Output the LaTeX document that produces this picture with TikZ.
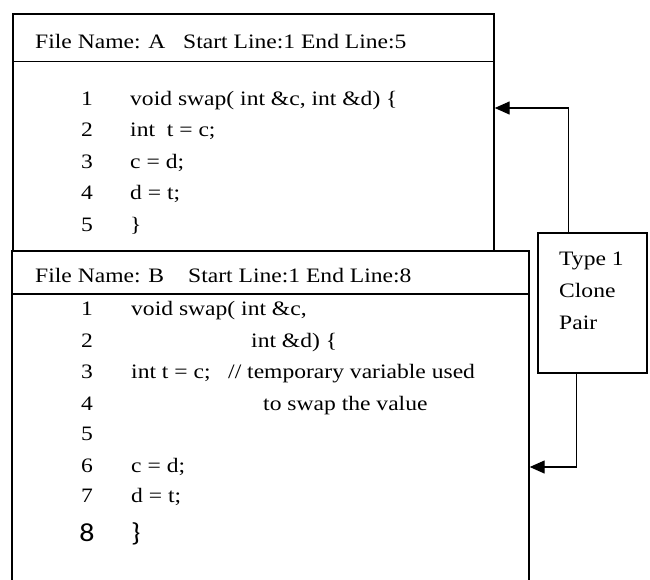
\documentclass[tikz,border=0pt]{standalone}
\usepackage{fontspec}
\setmainfont{Liberation Serif}[FakeStretch=1.15]
\newfontfamily\calfont{Carlito}[FakeStretch=1.15]
\usetikzlibrary{arrows.meta}
\begin{document}
\begin{tikzpicture}[x=1pt,y=-1pt,
  box/.style={draw=black,line width=1.4pt,fill=white,rectangle,inner sep=0pt},
  sep/.style={draw=black,line width=1.4pt},
  txt/.style={anchor=base west,inner sep=0pt,font=\fontsize{20.5}{24}\selectfont},
  num/.style={anchor=base,inner sep=0pt,font=\fontsize{20.5}{24}\selectfont},
  arr/.style={draw=black,line width=1.4pt,-{Triangle[length=15pt,width=13pt]}}]
\useasboundingbox (0,0) rectangle (650,579);
\clip (0,0) rectangle (650,579);
\fill[white] (0,0) rectangle (650,579);
% Box A
\node[box,minimum width=481pt,minimum height=237pt] (boxA) at (253.5,132.5) {};
\coordinate (hA) at (0,61.5);
\draw[sep] (boxA.west |- hA) -- (boxA.east |- hA);
\node[txt] (hA1) at (35,48.5) {File Name: A};
\node[txt] (hA2) at (183,48.5) {Start Line:1 End Line:5};
\foreach \n/\y/\t in {1/105,2/136.7,3/168.3,4/199.7,5/231.5}{
  \node[num] (an\n) at (87,\y) {\n};
}
\node[txt] (ac1) at (130,105) {void swap( int \&c, int \&d) \{};
\node[txt] (ac2) at (130,136.7) {int\ \ t = c;};
\node[txt] (ac3) at (130,168.3) {c = d;};
\node[txt] (ac4) at (130,199.7) {d = t;};
\node[txt] (ac5) at (130,231.5) {\}};
% Box B
\node[box,minimum width=517pt,minimum height=360pt] (boxB) at (270.5,431) {};
\coordinate (hB) at (0,294);
\draw[sep] (boxB.west |- hB) -- (boxB.east |- hB);
\node[txt] (hB1) at (35,282.3) {File Name: B};
\node[txt] (hB2) at (188,282.3) {Start Line:1 End Line:8};
\foreach \n/\y in {1/315.7,2/347.7,3/378.7,4/410.7,5/440.7,6/472.7,7/502.7}{
  \node[num] (bn\n) at (87,\y) {\n};
}
\node[txt] (bc1) at (131,315.7) {void swap( int \&c,};
\node[txt] (bc2) at (251,347.7) {int \&d) \{};
\node[txt] (bc3) at (131,378.7) {int t = c;};
\node[txt] (bc3b) at (228,378.7) {// temporary variable used};
\node[txt] (bc4) at (263,410.7) {to swap the value};
\node[txt] (bc6) at (131,472.7) {c = d;};
\node[txt] (bc7) at (131,502.7) {d = t;};
\node[num,font=\calfont\fontsize{26}{30}\selectfont] (bn8) at (87,541) {8};
\node[txt,font=\calfont\fontsize{26}{30}\selectfont] (bc8) at (131,541) {\}};
% Clone box
\node[box,minimum width=109pt,minimum height=140pt] (clone) at (592.5,303) {};
\node[txt] (t1) at (559,265) {Type 1};
\node[txt] (t2) at (559,297) {Clone};
\node[txt] (t3) at (559,329) {Pair};
% Arrows
\coordinate (yA) at (0,108);
\coordinate (yB) at (0,467);
\draw[arr] ([xshift=31pt]clone.north west) |- (boxA.east |- yA);
\draw[arr] ([xshift=39pt]clone.south west) |- (boxB.east |- yB);
\end{tikzpicture}
\end{document}
